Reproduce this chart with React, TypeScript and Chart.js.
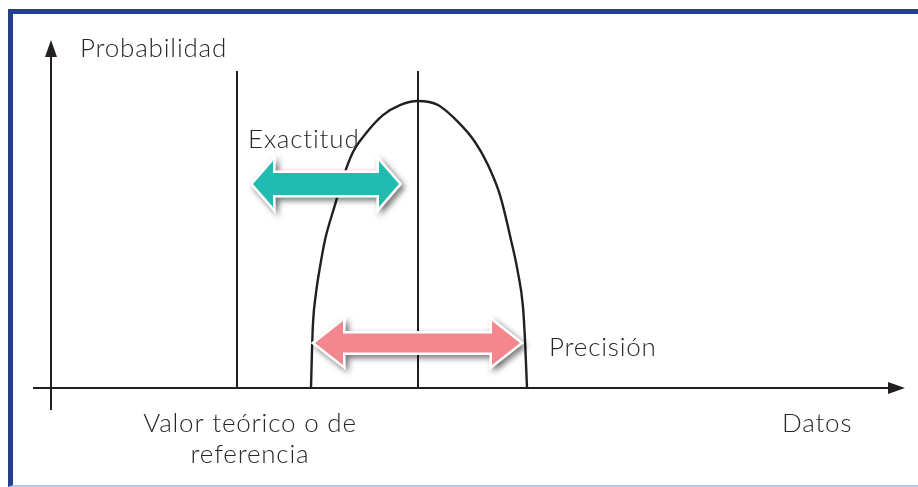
import React, { useEffect, useRef } from "react";
import { Chart, registerables } from "chart.js";

Chart.register(...registerables);

// Curve of the measured distribution (x: Datos, y: Probabilidad)
const curveX = [13.0, 13.05, 13.1, 13.25, 13.45, 13.7, 14.2, 14.6, 15.1, 15.8, 16.6, 17.45, 18.35, 19.35, 20.35, 21.2, 21.85, 22.45, 23.0, 23.35, 23.6, 23.7, 23.8];
const curveY = [0, 0.132, 0.226, 0.331, 0.422, 0.516, 0.638, 0.732, 0.822, 0.892, 0.951, 0.986, 1.0, 0.986, 0.927, 0.857, 0.777, 0.672, 0.516, 0.401, 0.282, 0.167, 0];

// Reference (theoretical) value and measured mean
const referenceValue = 9.3;
const meanValue = 18.35;
const markerTop = 1.1045;

// Axes extents
const xAxisRange = [-0.9, 42.7];
const yAxisRange = [-0.0767, 1.2125];

// Double arrows: [from, to, y]
const accuracyArrow = [10.1, 17.4, 0.711];
const precisionArrow = [13.2, 23.45, 0.157];

// Labels
const labelTexts = ["Probabilidad", "Exactitud", "Precisión", "Datos", "Valor teórico o de", "referencia"];
const labelX = [1.45, 9.85, 24.9, 36.55, 9.95, 9.95];
const labelY = [1.153, 0.837, 0.1115, -0.153, -0.153, -0.261];
const labelAlign = ["left", "left", "left", "left", "center", "center"];

const INK = "#231f20";

function doubleArrowPath(ctx: CanvasRenderingContext2D, x1: number, x2: number, y: number, shaftH: number, headH: number, headL: number) {
  ctx.beginPath();
  ctx.moveTo(x1, y);
  ctx.lineTo(x1 + headL, y - headH / 2);
  ctx.lineTo(x1 + headL, y - shaftH / 2);
  ctx.lineTo(x2 - headL, y - shaftH / 2);
  ctx.lineTo(x2 - headL, y - headH / 2);
  ctx.lineTo(x2, y);
  ctx.lineTo(x2 - headL, y + headH / 2);
  ctx.lineTo(x2 - headL, y + shaftH / 2);
  ctx.lineTo(x1 + headL, y + shaftH / 2);
  ctx.lineTo(x1 + headL, y + headH / 2);
  ctx.closePath();
}

function drawDoubleArrow(ctx: CanvasRenderingContext2D, x1: number, x2: number, y: number, shaftH: number, headH: number, headL: number, color: string) {
  ctx.save();
  ctx.lineJoin = "miter";
  doubleArrowPath(ctx, x1, x2, y, shaftH, headH, headL);
  ctx.shadowColor = "rgba(0,0,0,0.45)";
  ctx.shadowBlur = 6;
  ctx.shadowOffsetX = 3;
  ctx.shadowOffsetY = 3;
  ctx.fillStyle = "#ffffff";
  ctx.strokeStyle = "#ffffff";
  ctx.lineWidth = 5;
  ctx.stroke();
  ctx.fill();
  ctx.shadowColor = "transparent";
  ctx.shadowBlur = 0;
  ctx.shadowOffsetX = 0;
  ctx.shadowOffsetY = 0;
  doubleArrowPath(ctx, x1, x2, y, shaftH, headH, headL);
  ctx.lineWidth = 5;
  ctx.stroke();
  ctx.fillStyle = color;
  ctx.fill();
  ctx.restore();
}

const decorPlugin = {
  id: "decor",
  afterDatasetsDraw(chart: any) {
    const ctx: CanvasRenderingContext2D = chart.ctx;
    const xs = chart.scales.x;
    const ys = chart.scales.y;
    const px = (v: number) => xs.getPixelForValue(v);
    const py = (v: number) => ys.getPixelForValue(v);

    // axis arrowheads
    ctx.save();
    ctx.fillStyle = INK;
    const ax = px(0);
    const ayTip = py(yAxisRange[1]);
    ctx.beginPath();
    ctx.moveTo(ax, ayTip);
    ctx.lineTo(ax - 6, ayTip + 17);
    ctx.lineTo(ax + 6, ayTip + 17);
    ctx.closePath();
    ctx.fill();
    const bx = px(xAxisRange[1]);
    const by = py(0);
    ctx.beginPath();
    ctx.moveTo(bx, by);
    ctx.lineTo(bx - 17, by - 6);
    ctx.lineTo(bx - 17, by + 6);
    ctx.closePath();
    ctx.fill();
    ctx.restore();

    // double arrows
    drawDoubleArrow(ctx, px(accuracyArrow[0]), px(accuracyArrow[1]), py(accuracyArrow[2]), 22, 46, 20, "#22bbb0");
    drawDoubleArrow(ctx, px(precisionArrow[0]), px(precisionArrow[1]), py(precisionArrow[2]), 19, 44, 28, "#f4868d");

    // labels
    ctx.save();
    ctx.fillStyle = "#2a2627";
    ctx.font = '300 26px Lato, "Noto Sans", sans-serif';
    (ctx as any).letterSpacing = "0.8px";
    ctx.textBaseline = "alphabetic";
    for (let i = 0; i < labelTexts.length; i++) {
      ctx.textAlign = labelAlign[i] as CanvasTextAlign;
      ctx.fillText(labelTexts[i], px(labelX[i]), py(labelY[i]));
    }
    ctx.restore();
  },
};

export default function App() {
  const canvasRef = useRef<HTMLCanvasElement | null>(null);

  useEffect(() => {
    if (!canvasRef.current) return;
    const lineStyle = { showLine: true, pointRadius: 0, borderColor: INK, borderWidth: 2, fill: false };
    const chart = new Chart(canvasRef.current, {
      type: "scatter",
      data: {
        datasets: [
          { ...lineStyle, label: "Eje X", data: [{ x: xAxisRange[0], y: 0 }, { x: xAxisRange[1] - 0.5, y: 0 }] },
          { ...lineStyle, label: "Eje Y", data: [{ x: 0, y: yAxisRange[0] }, { x: 0, y: yAxisRange[1] - 0.03 }] },
          { ...lineStyle, label: "Referencia", data: [{ x: referenceValue, y: 0 }, { x: referenceValue, y: markerTop }] },
          { ...lineStyle, label: "Media", data: [{ x: meanValue, y: 0 }, { x: meanValue, y: markerTop }] },
          {
            ...lineStyle,
            label: "Distribución",
            borderWidth: 2.4,
            cubicInterpolationMode: "monotone",
            data: curveX.map((x, i) => ({ x, y: curveY[i] })),
          },
        ],
      },
      options: {
        animation: false,
        responsive: false,
        maintainAspectRatio: false,
        layout: { padding: 0 },
        plugins: { legend: { display: false }, tooltip: { enabled: false } },
        scales: {
          x: { type: "linear", min: -2.55, max: 43.35, display: false },
          y: { type: "linear", min: -0.34495, max: 1.35192, display: false },
        },
      },
      plugins: [decorPlugin],
    });
    return () => chart.destroy();
  }, []);

  return (
    <div style={{ position: "fixed", left: 0, top: 0, width: 918, height: 487, background: "#ffffff" }}>
      <div
        style={{
          position: "absolute",
          left: 8,
          top: 9,
          right: 0,
          bottom: 0,
          borderLeft: "5px solid #253f8e",
          borderTop: "5px solid #253f8e",
          borderBottom: "2px solid #b8c8e8",
        }}
      />
      <canvas ref={canvasRef} width={918} height={487} style={{ position: "absolute", left: 0, top: 0, width: 918, height: 487 }} />
    </div>
  );
}
